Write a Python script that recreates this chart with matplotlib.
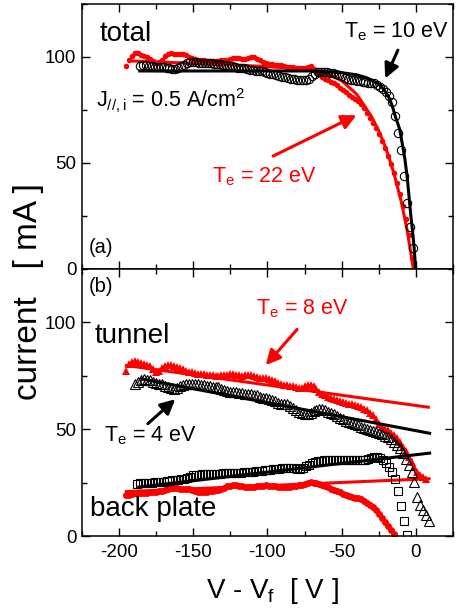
import numpy as np
import matplotlib
matplotlib.use('Agg')
import matplotlib.pyplot as plt

plt.rcParams['font.family'] = ['Liberation Sans', 'DejaVu Sans']
plt.rcParams['mathtext.fontset'] = 'custom'
plt.rcParams['mathtext.rm'] = 'Liberation Sans'
plt.rcParams['mathtext.it'] = 'Liberation Sans:italic'
plt.rcParams['axes.unicode_minus'] = False

RED = '#ff0000'

# ---- (a) total current ----
# open circles (Te = 10 eV), sweep -186 .. -2 V every 2 V
v_tot_b = np.arange(-186, -1, 2)
i_tot_b = [95.8, 96.0, 96.0, 95.8, 95.6, 95.4, 95.3, 95.2, 95.1, 95.0,
           94.8, 94.5, 94.4, 94.8, 95.6, 96.4, 97.0, 97.4, 97.6, 97.5,
           97.3, 97.2, 97.2, 97.1, 97.0, 96.8, 96.6, 96.5, 96.3, 96.0,
           95.8, 95.6, 95.3, 95.0, 94.8, 94.6, 94.3, 94.0, 93.8, 93.6,
           93.6, 93.3, 92.8, 92.3, 91.9, 91.8, 91.6, 91.2, 90.7, 90.4,
           90.1, 89.8, 89.5, 89.3, 89.1, 89.0, 89.0, 89.6, 91.0, 92.2,
           92.8, 93.0, 92.9, 92.7, 92.6, 92.5, 92.2, 91.6, 90.8, 90.0,
           89.4, 89.1, 89.0, 88.8, 88.5, 88.2, 88.0, 87.9, 87.8, 87.6,
           87.0, 86.0, 85.0, 83.6, 81.8, 79.0, 72.0, 64.0, 56.0, 44.0,
           31.0, 20.0, 9.7]

# filled red dots (Te = 22 eV), sweep -195 .. -3 V
v_tot_r = np.arange(-195, -2, 2)
i_tot_r = [95.8, 98.5, 100.5, 101.8, 101.8, 101.0, 100.3, 99.8, 99.0, 98.0,
           97.3, 97.8, 98.8, 100.3, 101.5, 101.8, 101.6, 101.4, 101.4, 101.2,
           100.8, 100.2, 99.6, 99.0, 98.8, 98.5, 98.4, 98.3, 98.2, 98.2,
           98.1, 98.2, 98.4, 98.6, 98.8, 99.2, 99.6, 99.7, 99.4, 99.1,
           99.0, 99.5, 100.0, 99.8, 99.2, 98.5, 97.8, 97.3, 96.8, 96.6,
           96.3, 96.2, 96.0, 95.8, 95.5, 95.3, 95.1, 95.0, 94.9, 94.8,
           95.0, 95.5, 95.8, 94.5, 93.0, 91.8, 90.6, 89.8, 89.0, 88.2,
           87.5, 86.6, 85.6, 84.6, 83.4, 82.2, 81.2, 80.2, 79.2, 77.8,
           75.8, 73.6, 71.2, 68.8, 66.4, 63.6, 60.4, 57.0, 53.2, 49.4,
           45.2, 40.4, 35.2, 29.6, 23.6, 16.0, 5.0]

# fit curves
v_fit_b = [-186, -70, -50, -40, -34, -30, -25, -22, -18.2, -16, -13.7, -11, -9.2,
           -7.5, -5.9, -3.6, -2.5, -1.3, -0.2]
i_fit_b = [93.4, 93.4, 92.6, 91.6, 90.4, 89.2, 87.2, 85.0, 80.9, 77.0, 71.5, 66.0, 59.0,
           52.0, 43.3, 26.1, 19.0, 10.5, 0.0]
v_fit_r = [-191, -150, -110, -80, -70, -60, -50, -40, -30, -25, -20, -15, -10, -6, -2]
i_fit_r = [98.1, 97.0, 95.8, 94.6, 93.8, 92.2, 88.8, 82.5, 72.0, 65.0, 56.5, 45.5, 32.0, 18.5, 1.0]

# ---- (b) tunnel and back plate ----
v_tun_r = np.arange(-195, 8, 2)
i_tun_r = [77.4, 80.6, 81.6, 82.0, 81.4, 81.0, 80.6, 80.0, 79.4, 78.4,
           77.0, 77.4, 78.8, 79.6, 80.0, 80.0, 79.6, 79.2, 78.6, 78.0,
           77.4, 77.0, 76.8, 76.4, 76.0, 75.8, 75.8, 75.6, 75.4, 75.2,
           75.0, 75.1, 75.2, 75.4, 75.6, 75.8, 75.8, 75.6, 75.2, 75.0,
           75.4, 75.6, 75.2, 74.8, 74.4, 74.2, 74.0, 73.8, 73.5, 73.0,
           72.4, 71.8, 71.2, 70.8, 70.6, 70.4, 70.2, 69.6, 69.2, 69.4,
           70.2, 70.6, 70.8, 70.2, 68.8, 67.4, 66.4, 65.8, 65.2, 64.6,
           64.2, 63.6, 63.2, 62.8, 62.4, 62.0, 61.6, 61.2, 60.8, 60.2,
           59.6, 58.8, 57.8, 56.6, 54.8, 52.6, 51.2, 50.2, 49.4, 48.4,
           47.2, 45.8, 43.8, 41.8, 39.6, 37.0, 34.6, 32.2, 30.0, 28.4,
           27.4, 26.6]

v_tun_b = np.arange(-189, 10, 2)
i_tun_b = [71.2, 72.0, 73.0, 73.4, 73.2, 72.8, 72.2, 71.6, 71.2, 71.0,
           70.4, 69.8, 69.2, 68.9, 69.2, 70.0, 70.8, 71.2, 71.2, 71.2,
           71.1, 71.0, 70.9, 70.8, 70.4, 70.0, 69.8, 69.7, 69.6, 69.0,
           68.4, 67.8, 67.5, 67.4, 67.2, 67.0, 66.8, 66.6, 66.5, 66.5,
           66.2, 65.8, 65.3, 64.8, 64.4, 64.2, 63.6, 63.0, 62.2, 61.8,
           61.9, 61.8, 61.0, 59.8, 58.8, 58.2, 57.7, 57.3, 57.2, 57.6,
           58.4, 59.2, 59.6, 59.4, 58.8, 58.2, 57.6, 57.0, 56.2, 55.4,
           54.6, 54.0, 53.4, 52.8, 52.3, 51.8, 51.2, 50.6, 50.0, 49.6,
           49.3, 48.7, 48.2, 47.6, 47.0, 46.2, 45.2, 44.0, 42.8, 41.0,
           38.8, 36.2, 33.4, 29.8, 25.4, 18.2, 14.6, 12.4, 10.0, 6.8]

v_bp_b = np.arange(-188, -5, 2)
i_bp_b = [24.5, 24.6, 24.7, 24.8, 24.9, 25.0, 25.1, 25.2, 25.4, 25.5,
          25.7, 25.8, 26.0, 26.2, 26.4, 26.6, 26.8, 27.2, 27.8, 28.4,
          28.6, 28.6, 28.8, 28.9, 29.0, 29.0, 29.1, 29.2, 29.2, 29.3,
          29.4, 29.4, 29.4, 29.5, 29.6, 29.7, 29.8, 29.9, 30.0, 30.0,
          30.2, 30.4, 30.6, 30.8, 30.9, 31.0, 31.2, 31.4, 31.6, 31.8,
          32.0, 32.0, 32.0, 31.8, 31.6, 31.6, 32.0, 32.6, 33.4, 34.0,
          34.6, 35.0, 35.2, 35.4, 35.5, 35.5, 35.4, 35.5, 35.6, 35.8,
          35.8, 35.7, 35.6, 35.6, 35.6, 35.7, 35.8, 35.8, 36.0, 36.4,
          36.8, 36.9, 36.6, 35.6, 34.0, 32.2, 30.0, 26.8, 21.2, 14.0,
          7.2, 0.3]

v_bp_r = np.arange(-195, -14, 2)
i_bp_r = [19.0, 19.4, 19.8, 20.0, 20.1, 20.2, 20.2, 20.2, 20.4, 20.6,
          20.8, 21.0, 21.2, 21.6, 22.2, 22.6, 22.6, 22.4, 22.2, 22.1,
          22.0, 21.8, 21.4, 21.0, 20.8, 20.6, 20.6, 20.8, 21.0, 21.2,
          21.4, 21.6, 22.0, 22.6, 23.2, 23.6, 23.8, 23.8, 23.6, 23.2,
          23.0, 22.9, 22.9, 23.0, 23.2, 23.4, 23.6, 23.7, 23.6, 23.4,
          23.2, 23.0, 22.8, 22.8, 22.9, 23.1, 23.3, 23.5, 23.7, 24.0,
          24.4, 24.8, 25.2, 25.0, 24.6, 24.2, 23.8, 23.4, 22.8, 22.2,
          21.6, 21.0, 20.4, 19.8, 19.2, 18.8, 18.4, 18.0, 17.6, 17.1,
          16.4, 15.6, 14.6, 13.4, 12.0, 10.4, 8.6, 6.6, 4.6, 2.8,
          1.0]

# straight-line fits (end points)
v_tun_fit_r, i_tun_fit_r = [-195, 8.3], [79.8, 60.3]
v_tun_fit_b, i_tun_fit_b = [-184.6, 9.2], [73.5, 48.1]
v_bp_fit_b, i_bp_fit_b = [-186.5, 9.2], [22.9, 38.8]
v_bp_fit_r, i_bp_fit_r = [-195, 8.8], [20.8, 26.8]

fig = plt.figure(figsize=(4.6, 6.13), dpi=100)
ax1 = fig.add_axes([0.178, 0.5612, 0.807, 0.4323])
ax2 = fig.add_axes([0.178, 0.1256, 0.807, 0.4356])

for ax in (ax1, ax2):
    ax.set_xlim(-225, 25)
    ax.set_ylim(0, 125)
    ax.set_xticks([-200, -150, -100, -50, 0])
    ax.set_xticks([-225, -175, -125, -75, -25, 25], minor=True)
    ax.set_yticks([0, 50, 100])
    ax.set_yticks([25, 75, 125], minor=True)
    ax.tick_params(which='both', direction='in', top=True, right=True,
                   width=1, labelsize=13.5, pad=4)
    ax.tick_params(which='major', length=6)
    ax.tick_params(which='minor', length=3.5)
    for s in ax.spines.values():
        s.set_linewidth(1.1)
ax1.tick_params(labelbottom=False)
ax2.tick_params(axis='x', pad=6)

BIG, MID = 20, 15.5
arrow = dict(arrowstyle='-|>', lw=2.2, mutation_scale=22)

# panel (a)
ax1.plot(v_tot_r, i_tot_r, 'o', color=RED, ms=4, mew=0, zorder=2)
ax1.plot(v_fit_r, i_fit_r, '-', color=RED, lw=2.2, zorder=3)
ax1.plot(v_tot_b, i_tot_b, 'o', mfc='none', mec='black', ms=6, mew=0.8, zorder=4)
ax1.plot(v_fit_b, i_fit_b, '-', color='black', lw=2.2, zorder=5)

ax1.text(0.049, 0.885, 'total', transform=ax1.transAxes, fontsize=BIG, va='center')
ax1.text(0.705, 0.895, r'T$_\mathregular{e}$ = 10 eV', transform=ax1.transAxes,
         fontsize=MID, va='center')
ax1.text(0.038, 0.635, r'J$_{//,\mathregular{i}}$ = 0.5 A/cm$^\mathregular{2}$',
         transform=ax1.transAxes, fontsize=MID, va='center')
ax1.text(0.35, 0.35, r'T$_\mathregular{e}$ = 22 eV', transform=ax1.transAxes,
         fontsize=MID, va='center', color=RED)
ax1.text(0.019, 0.08, '(a)', transform=ax1.transAxes, fontsize=14.5, va='center')
ax1.annotate('', xy=(-21.5, 88.7), xytext=(-11.4, 104.4),
             arrowprops=dict(color='black', **arrow))
ax1.annotate('', xy=(-38.4, 73.1), xytext=(-97.9, 52.7),
             arrowprops=dict(color=RED, **arrow))

# panel (b)
ax2.plot(v_tun_r, i_tun_r, '^', color=RED, ms=5.5, mew=0, zorder=2)
ax2.plot(v_bp_r, i_bp_r, 'o', color=RED, ms=5, mew=0, zorder=2)
ax2.plot(v_tun_fit_r, i_tun_fit_r, '-', color=RED, lw=2.2, zorder=3)
ax2.plot(v_bp_fit_r, i_bp_fit_r, '-', color=RED, lw=2.2, zorder=3)
ax2.plot(v_tun_b, i_tun_b, '^', mfc='none', mec='black', ms=6.5, mew=0.8, zorder=4)
ax2.plot(v_bp_b, i_bp_b, 's', mfc='none', mec='black', ms=5.3, mew=0.8, zorder=4)
ax2.plot(v_tun_fit_b, i_tun_fit_b, '-', color='black', lw=2.2, zorder=5)
ax2.plot(v_bp_fit_b, i_bp_fit_b, '-', color='black', lw=2.2, zorder=5)

ax2.text(0.019, 0.936, '(b)', transform=ax2.transAxes, fontsize=14.5, va='center')
ax2.text(0.47, 0.85, r'T$_\mathregular{e}$ = 8 eV', transform=ax2.transAxes,
         fontsize=MID, va='center', color=RED)
ax2.text(0.035, 0.75, 'tunnel', transform=ax2.transAxes, fontsize=BIG, va='center')
ax2.text(0.06, 0.375, r'T$_\mathregular{e}$ = 4 eV', transform=ax2.transAxes,
         fontsize=MID, va='center')
ax2.text(0.022, 0.10, 'back plate', transform=ax2.transAxes, fontsize=BIG, va='center')
ax2.annotate('', xy=(-102.4, 79.0), xytext=(-78.8, 97.7),
             arrowprops=dict(color=RED, **arrow))
ax2.annotate('', xy=(-160.7, 64.9), xytext=(-182.0, 51.7),
             arrowprops=dict(color='black', **arrow))

fig.text(0.062, 0.524, 'current   [ mA ]', rotation=90, fontsize=24,
         ha='center', va='center')
fig.text(0.592, 0.025, r'V - V$_\mathregular{f}$  [ V ]', fontsize=20,
         ha='center', va='baseline')

fig.savefig('out.png', dpi=100)
